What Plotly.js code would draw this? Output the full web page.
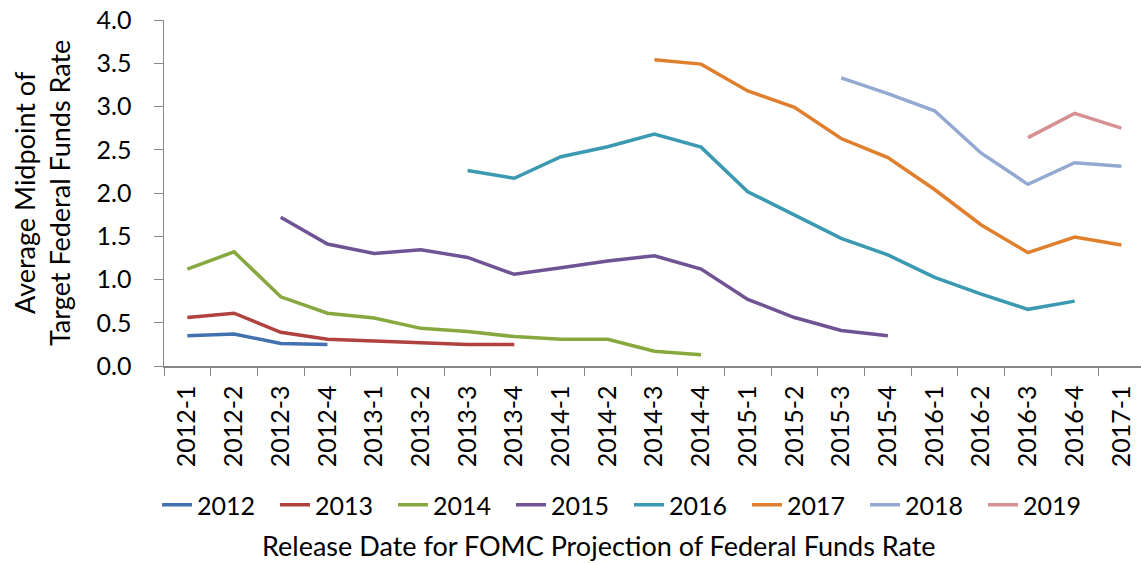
<!DOCTYPE html>
<html>
<head>
<meta charset="utf-8">
<script src="https://cdn.plot.ly/plotly-3.0.1.min.js"></script>
<style>html,body{margin:0;padding:0;background:#fff;}#chart{width:1141px;height:563px;}</style>
</head>
<body>
<div id="chart"></div>
<script>
const categories = ["2012-1","2012-2","2012-3","2012-4","2013-1","2013-2","2013-3","2013-4","2014-1","2014-2","2014-3","2014-4","2015-1","2015-2","2015-3","2015-4","2016-1","2016-2","2016-3","2016-4","2017-1"];
const seriesNames = ["2012","2013","2014","2015","2016","2017","2018","2019"];
const s2012 = [0.35,0.37,0.26,0.25];
const s2013 = [0.56,0.61,0.39,0.31,0.29,0.27,0.25,0.25];
const s2014 = [1.12,1.32,0.80,0.61,0.555,0.435,0.40,0.34,0.31,0.31,0.17,0.13];
const s2015 = [null,null,1.72,1.41,1.30,1.345,1.255,1.06,1.135,1.215,1.275,1.12,0.77,0.56,0.41,0.35];
const s2016 = [null,null,null,null,null,null,2.26,2.17,2.42,2.535,2.68,2.53,2.015,1.75,1.475,1.285,1.025,0.83,0.655,0.75];
const s2017 = [null,null,null,null,null,null,null,null,null,null,3.54,3.49,3.18,2.99,2.63,2.41,2.04,1.63,1.31,1.49,1.40];
const s2018 = [null,null,null,null,null,null,null,null,null,null,null,null,null,null,3.33,3.15,2.95,2.46,2.10,2.35,2.31];
const s2019 = [null,null,null,null,null,null,null,null,null,null,null,null,null,null,null,null,null,null,2.64,2.92,2.75];
const yTicks = [0,0.5,1,1.5,2,2.5,3,3.5,4];
const yTickText = ["0.0","0.5","1.0","1.5","2.0","2.5","3.0","3.5","4.0"];

const allSeries = [s2012,s2013,s2014,s2015,s2016,s2017,s2018,s2019];
const colors = ["#4171B0","#B0413E","#87A83E","#6F5394","#3B9AB2","#E0802F","#93A9D2","#D69292"];
const FONT = "Lato, 'Liberation Sans', sans-serif";

const traces = allSeries.map((vals, i) => ({
  type: "scatter",
  mode: "lines",
  name: seriesNames[i],
  x: categories.slice(0, vals.length),
  y: vals,
  line: {color: colors[i], width: 3.5},
  connectgaps: false
}));

const layout = {
  width: 1141, height: 563,
  margin: {l: 164, r: 0, t: 20, b: 197},
  paper_bgcolor: "#fff", plot_bgcolor: "#fff",
  font: {family: FONT, size: 25, color: "#000"},
  showlegend: true,
  legend: {orientation: "h", x: (157 - 164) / 977, xanchor: "left", y: (366 - 505) / 346, yanchor: "middle",
           font: {family: FONT, size: 25, color: "#000"}, itemwidth: 30, entrywidth: 73, entrywidthmode: "pixels"},
  xaxis: {
    type: "category", categoryorder: "array", categoryarray: categories,
    range: [-0.5, 20.42],
    tickangle: -90, tickson: "boundaries", ticks: "outside", ticklen: 8, tickcolor: "#888",
    ticklabelstandoff: 8,
    showline: true, linecolor: "#888", linewidth: 1.5, showgrid: false, zeroline: false,
    tickfont: {family: FONT, size: 25, color: "#000"}, automargin: false
  },
  yaxis: {
    range: [0, 4], tickvals: yTicks, ticktext: yTickText,
    ticks: "outside", ticklen: 9, tickcolor: "#888", ticklabelstandoff: 17,
    showline: true, linecolor: "#888", linewidth: 1.5, showgrid: false, zeroline: false,
    tickfont: {family: FONT, size: 25, color: "#000"}, automargin: false
  },
  annotations: [
    {text: "Release Date for FOMC Projection of Federal Funds Rate", xref: "paper", yref: "paper",
     x: (599 - 164) / 977, y: (366 - 545) / 346, xanchor: "center", yanchor: "middle", showarrow: false,
     font: {family: FONT, size: 27, color: "#000"}},
    {text: "Average Midpoint of<br>Target Federal Funds Rate", xref: "paper", yref: "paper",
     x: (42 - 164) / 977, y: (366 - 193) / 346, xanchor: "center", yanchor: "middle", showarrow: false,
     textangle: -90, font: {family: FONT, size: 27, color: "#000"}}
  ]
};

Plotly.newPlot("chart", traces, layout, {displayModeBar: false, staticPlot: true});
</script>
</body>
</html>
